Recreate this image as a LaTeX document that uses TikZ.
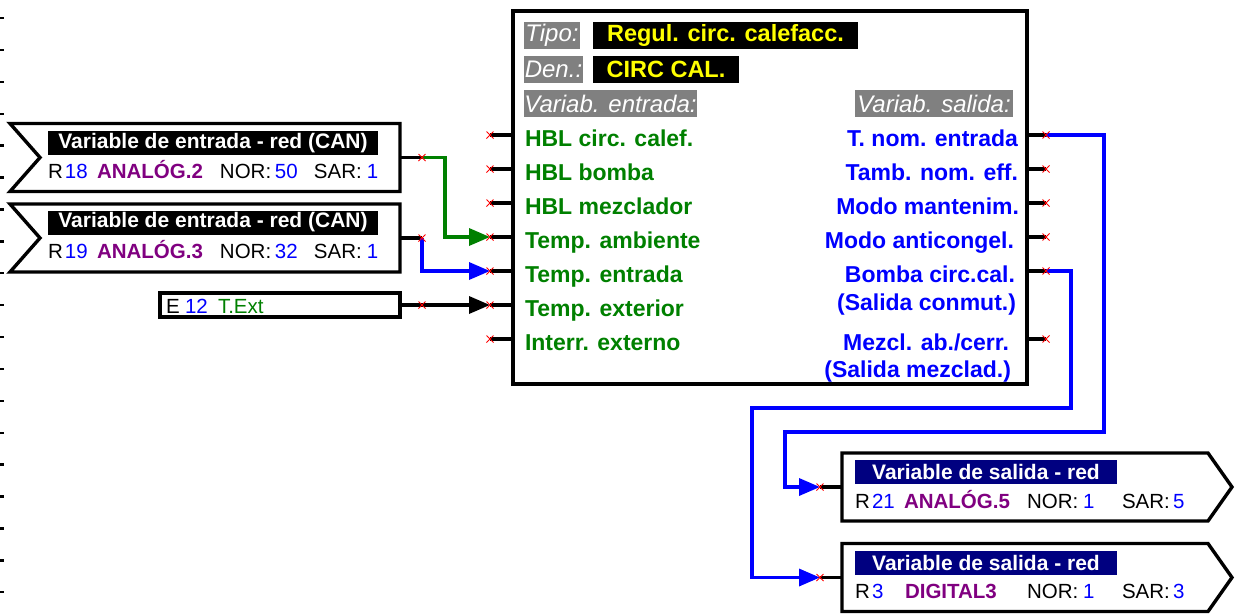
\documentclass[tikz,border=0pt]{standalone}
\usepackage{fontspec}
\setmainfont{Liberation Sans}
\usepackage{tikz}
\usetikzlibrary{arrows.meta}
\usepackage{xcolor}
\definecolor{sgreen}{HTML}{008000}
\definecolor{sblue}{HTML}{0000FF}
\definecolor{spurple}{HTML}{800080}
\definecolor{snavy}{HTML}{000080}
\definecolor{sgray}{HTML}{808080}
\definecolor{syellow}{HTML}{FFFF00}
\newcommand\fld[2]{\makebox[#1pt][l]{#2}}
\begin{document}
\begin{tikzpicture}[x=1pt,y=-1pt,>={Triangle[length=21pt,width=17pt]},every node/.style={inner sep=0pt,outer sep=0pt},frame/.style={line width=3.4pt},wire/.style={line width=3.4pt},xmark/.style={red,line width=1pt},tag/.style={fill=sgray,text=white,font=\fontsize{24}{28}\selectfont\itshape,minimum height=27pt,anchor=west},ytag/.style={fill=black,text=syellow,font=\fontsize{23.5}{27}\selectfont\bfseries,minimum height=27pt,anchor=west},inlab/.style={anchor=base west,text=sgreen,font=\fontsize{23}{27}\selectfont\bfseries},outlab/.style={anchor=base east,text=sblue,font=\fontsize{23}{27}\selectfont\bfseries},bar/.style={fill=black,text=white,font=\fontsize{21}{24}\selectfont\bfseries,minimum width=330pt,minimum height=24pt},obar/.style={bar,fill=snavy,minimum width=262pt},row/.style={anchor=base west,font=\fontsize{20.5}{24}\selectfont},vbox/.style={minimum width=390pt,minimum height=68pt}]
\useasboundingbox (0,0) rectangle (1235,614);
\foreach \k in {0,...,18}\draw[line width=2.4pt] (0,{18+31.9*\k}) -- (3.5,{18+31.9*\k});
\node[draw,frame,minimum width=514pt,minimum height=373pt,anchor=north west] (blk) at (513,11) {};
\node[tag,minimum width=56pt] (tipo) at (524,35.5) {Tipo:};
\node[ytag,minimum width=265pt] (tipov) at (593,35.5) {Regul. circ. calefacc.};
\node[tag,minimum width=59pt] (den) at (524,69.5) {Den.:};
\node[ytag,minimum width=146pt] (denv) at (593,69.5) {CIRC CAL.};
\node[tag,minimum width=173pt] (vein) at (524,103.5) {Variab. entrada:};
\node[tag,minimum width=158pt] (vsal) at (855,103.5) {Variab. salida:};
\node[inlab] (i1) at (525,146) {HBL circ. calef.};
\node[inlab] (i2) at (525,180) {HBL bomba};
\node[inlab] (i3) at (525,214) {HBL mezclador};
\node[inlab] (i4) at (525,248) {Temp. ambiente};
\node[inlab] (i5) at (525,282) {Temp. entrada};
\node[inlab] (i6) at (525,316) {Temp. exterior};
\node[inlab] (i7) at (525,350) {Interr. externo};
\node[outlab] (o1) at (1018,146) {T. nom. entrada};
\node[outlab] (o2) at (1018,180) {Tamb. nom. eff.};
\node[outlab] (o3) at (1019,214) {Modo mantenim.};
\node[outlab] (o4) at (1014,248) {Modo anticongel.};
\node[outlab] (o5) at (1015,282) {Bomba circ.cal.};
\node[outlab] (o5b) at (1016,310) {(Salida conmut.)};
\node[outlab] (o6) at (1009,350) {Mezcl. ab./cerr.};
\node[outlab] (o6b) at (1011,377) {(Salida mezclad.)};
\node[vbox] (vin1) at (205,157.5) {};
\draw[frame] (vin1.north west) -- (vin1.north east) -- (vin1.south east) -- (vin1.south west) -- ([xshift=30pt]vin1.west) -- cycle;
\node[bar] (t1) at (213,143) {Variable de entrada - red (CAN)};
\node[row] (r1) at (48,178) {\fld{17}{R}\fld{32}{\textcolor{sblue}{18}}\fld{123}{\textcolor{spurple}{\bfseries ANALÓG.2}}\fld{55}{NOR:}\fld{39}{\textcolor{sblue}{50}}\fld{53}{SAR:}\textcolor{sblue}{1}};
\node[vbox] (vin2) at (205,238) {};
\draw[frame] (vin2.north west) -- (vin2.north east) -- (vin2.south east) -- (vin2.south west) -- ([xshift=30pt]vin2.west) -- cycle;
\node[bar] (t2) at (213,222.5) {Variable de entrada - red (CAN)};
\node[row] (r2) at (48,258) {\fld{17}{R}\fld{32}{\textcolor{sblue}{19}}\fld{123}{\textcolor{spurple}{\bfseries ANALÓG.3}}\fld{55}{NOR:}\fld{39}{\textcolor{sblue}{32}}\fld{53}{SAR:}\textcolor{sblue}{1}};
\node[draw,frame,minimum width=240pt,minimum height=24pt] (ext) at (280,305) {};
\node[row] (r3) at (166,313) {\fld{19}{E}\fld{33}{\textcolor{sblue}{12}}\textcolor{sgreen}{T.Ext}};
\node[minimum width=390pt,minimum height=68pt] (vout1) at (1037,487) {};
\draw[frame] (vout1.north west) -- ([xshift=-24pt]vout1.north east) -- (vout1.east) -- ([xshift=-24pt]vout1.south east) -- (vout1.south west) -- cycle;
\node[obar] (t4) at (986,472) {Variable de salida - red};
\node[row] (r4) at (855,508) {\fld{17}{R}\fld{32}{\textcolor{sblue}{21}}\fld{123}{\textcolor{spurple}{\bfseries ANALÓG.5}}\fld{56}{NOR:}\fld{39}{\textcolor{sblue}{1}}\fld{51}{SAR:}\textcolor{sblue}{5}};
\node[minimum width=390pt,minimum height=68pt] (vout2) at (1037,577.5) {};
\draw[frame] (vout2.north west) -- ([xshift=-24pt]vout2.north east) -- (vout2.east) -- ([xshift=-24pt]vout2.south east) -- (vout2.south west) -- cycle;
\node[obar] (t5) at (986,563) {Variable de salida - red};
\node[row] (r5) at (855,598) {\fld{17}{R}\fld{33}{\textcolor{sblue}{3}}\fld{122}{\textcolor{spurple}{\bfseries DIGITAL3}}\fld{56}{NOR:}\fld{39}{\textcolor{sblue}{1}}\fld{51}{SAR:}\textcolor{sblue}{3}};
\foreach \y [count=\i] in {135,169,203,237,271,305,339}{\coordinate (pin\i) at (490,\y);\draw[wire] (pin\i) -- (pin\i -| blk.west);}
\foreach \y [count=\i] in {135,169,203,237,271,339}{\coordinate (pout\i) at (1046,\y);\draw[wire] (pout\i -| blk.east) -- (pout\i);}
\coordinate (c1) at ([xshift=22pt]vin1.east);
\coordinate (c2) at ([xshift=22pt]vin2.east);
\coordinate (c3) at ([xshift=22pt]ext.east);
\coordinate (cA) at ([xshift=-22pt]vout1.west);
\coordinate (cB) at ([xshift=-22pt]vout2.west);
\draw[wire] (vin1.east) -- (c1);\draw[wire] (vin2.east) -- (c2);\draw[wire] (ext.east) -- (c3);
\draw[wire] (cA) -- (vout1.west);\draw[wire] (cB) -- (vout2.west);
\draw[wire,sgreen,->] (c1) -- ++(23,0) |- (pin4);
\draw[wire,sblue,->] (c2) |- (pin5);
\draw[wire,->] (c3) -- (pin6);
\draw[wire,sblue,->] (pout1) -| (1104,432) -| ([xshift=-35pt]cA) -- (cA);
\draw[wire,sblue,->] (pout5) -| (1071,408) -| ([xshift=-68pt]cB) -- (cB);
\foreach \p in {pin1,pin2,pin3,pin4,pin5,pin6,pin7,pout1,pout2,pout3,pout4,pout5,pout6,c1,c2,c3,cA,cB}\draw[xmark] (\p) +(-3.5,-3.5) -- +(3.5,3.5) +(-3.5,3.5) -- +(3.5,-3.5);
\end{tikzpicture}
\end{document}
